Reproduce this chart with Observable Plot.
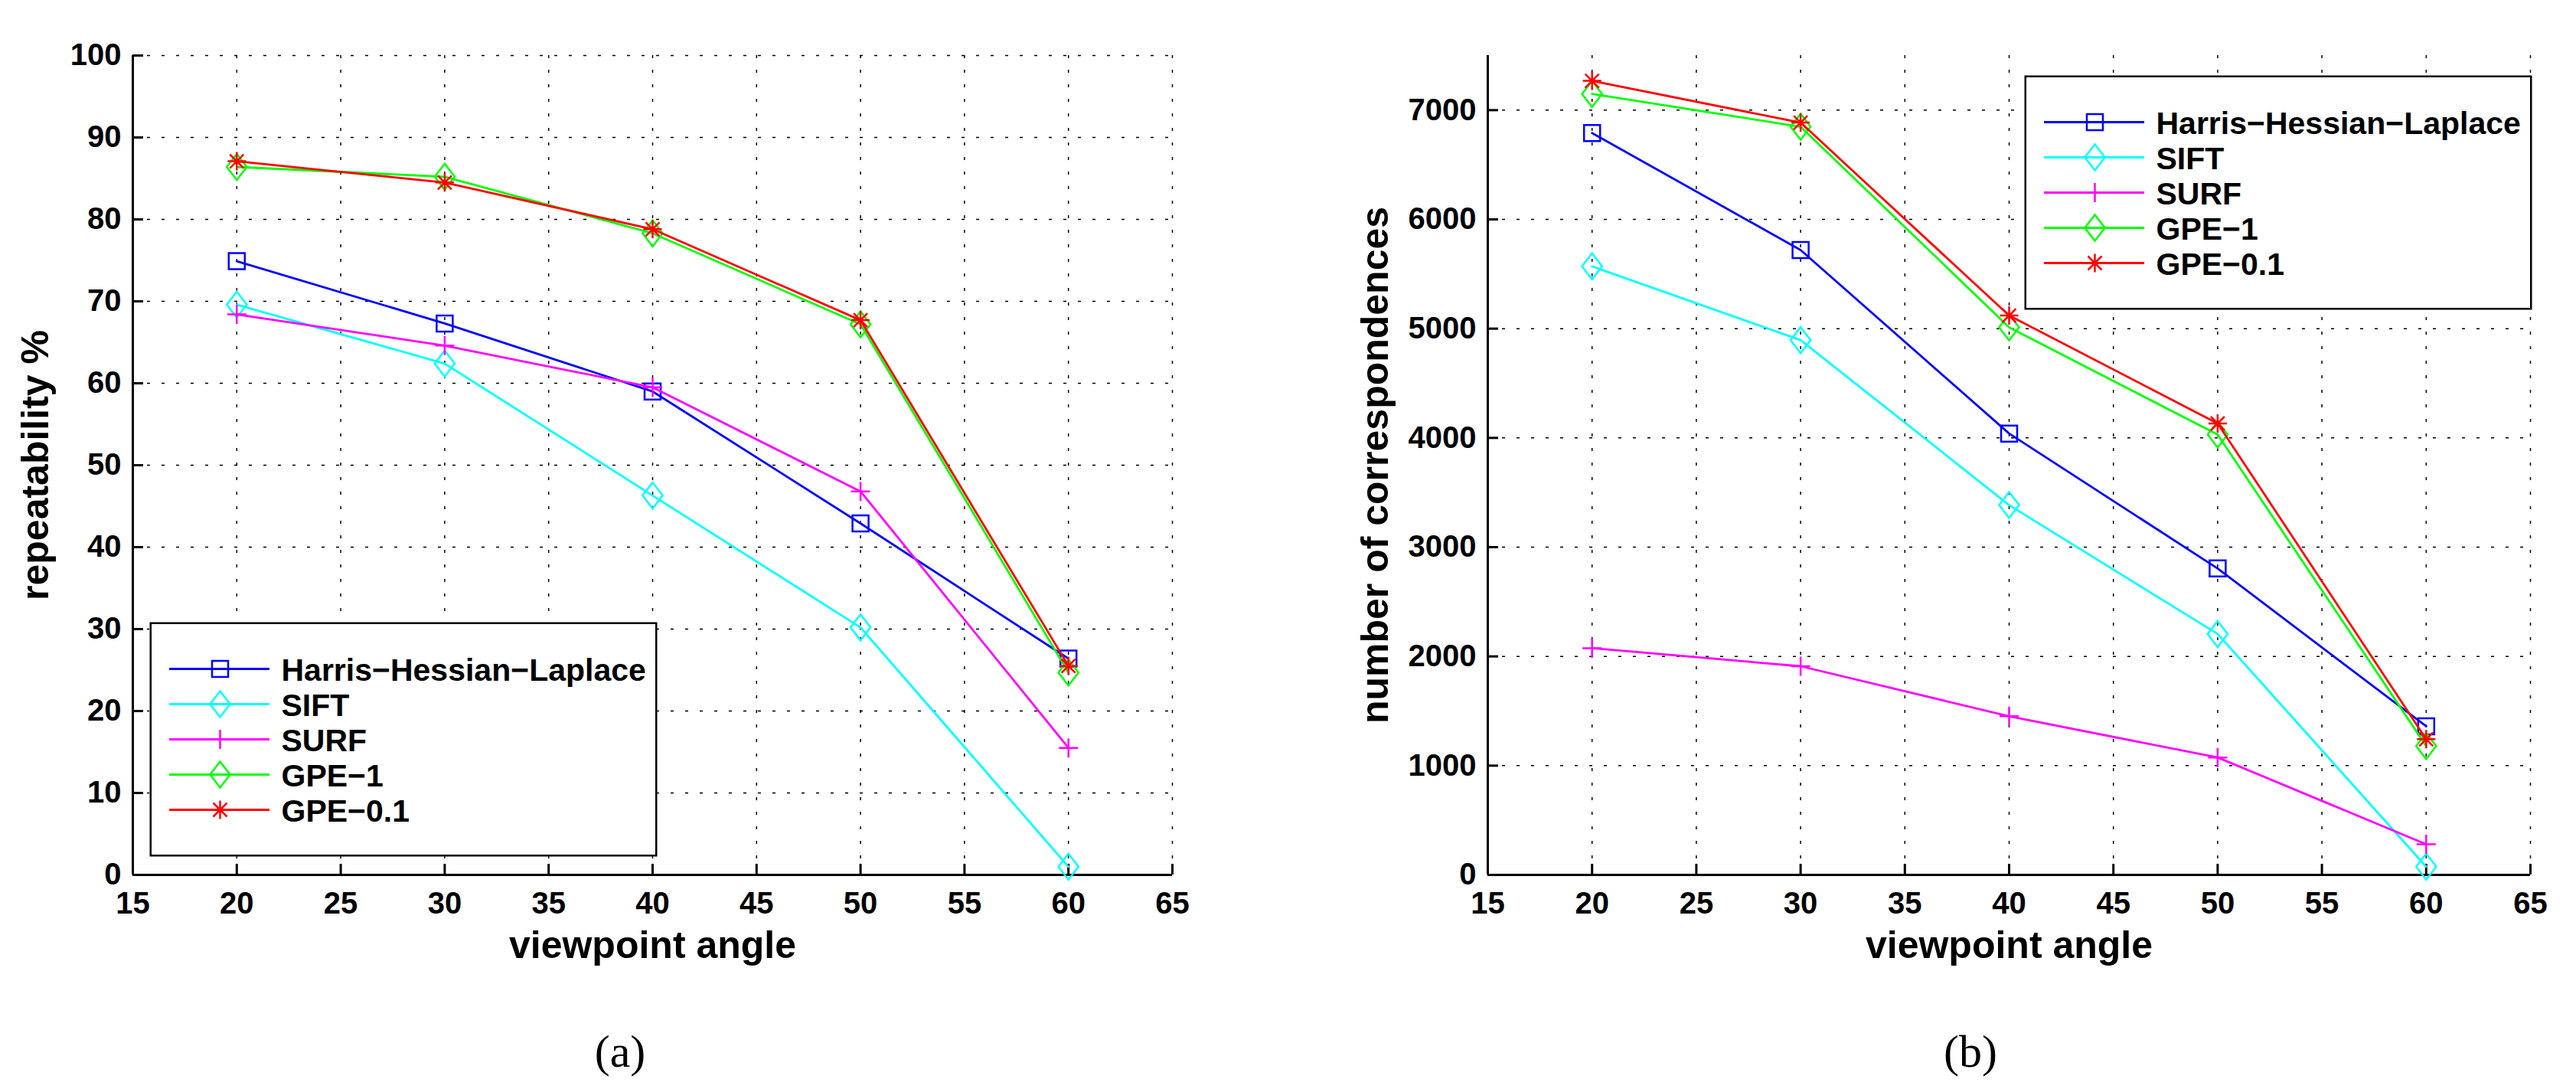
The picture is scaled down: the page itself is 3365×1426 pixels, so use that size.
<!DOCTYPE html>
<html>
<head>
<meta charset="utf-8">
<script src="https://cdn.jsdelivr.net/npm/d3@7"></script>
<script src="https://cdn.jsdelivr.net/npm/@observablehq/plot@0.6"></script>
<style>
html, body { margin: 0; padding: 0; background: #fff; }
#fig { position: relative; width: 3365px; height: 1426px; background: #fff; overflow: hidden; }
.cap { position: absolute; width: 200px; text-align: center; font-family: "Liberation Serif", "Times New Roman", serif; font-size: 60px; line-height: 60px; color: #000; }
</style>
</head>
<body>
<div id="fig"></div>
<script>
// ---------- data ----------
const angles = [20, 30, 40, 50, 60];
const seriesNames = ["Harris-Hessian-Laplace", "SIFT", "SURF", "GPE-1", "GPE-0.1"];
const legendLabels = ["Harris\u2212Hessian\u2212Laplace", "SIFT", "SURF", "GPE\u22121", "GPE\u22120.1"];
const seriesColors = ["#0000ff", "#00ffff", "#ff00ff", "#00ff00", "#ff0000"];

// (a) repeatability %
const repHHL   = [74.9, 67.3, 59.0, 42.9, 26.4];
const repSIFT  = [69.6, 62.4, 46.3, 30.2, 1.0];
const repSURF  = [68.4, 64.6, 59.5, 46.8, 15.5];
const repGPE1  = [86.4, 85.2, 78.3, 67.2, 24.7];
const repGPE01 = [87.1, 84.5, 78.8, 67.7, 25.5];

// (b) number of correspondences
const corHHL   = [6790, 5720, 4040, 2805, 1360];
const corSIFT  = [5570, 4895, 3385, 2205, 75];
const corSURF  = [2075, 1910, 1452, 1075, 280];
const corGPE1  = [7148, 6848, 5012, 4030, 1180];
const corGPE01 = [7268, 6886, 5120, 4132, 1242];

const xTicks = [15, 20, 25, 30, 35, 40, 45, 50, 55, 60, 65];
const repTicks = [0, 10, 20, 30, 40, 50, 60, 70, 80, 90, 100];
const corTicks = [0, 1000, 2000, 3000, 4000, 5000, 6000, 7000];
const xDomain = [15, 65];
const repDomain = [0, 100];
const corDomain = [0, 7500];
const xLabel = "viewpoint angle";
const repLabel = "repeatability %";
const corLabel = "number of correspondences";
const captions = ["(a)", "(b)"];

// ---------- marker symbols (MATLAB-like) ----------
const symSquare = { draw(ctx, size) { const r = Math.sqrt(size / Math.PI);
  ctx.moveTo(-r, -r); ctx.lineTo(r, -r); ctx.lineTo(r, r); ctx.lineTo(-r, r); ctx.closePath(); } };
const symDiamond = { draw(ctx, size) { const r = Math.sqrt(size / Math.PI), w = r * 0.77;
  ctx.moveTo(0, -r); ctx.lineTo(w, 0); ctx.lineTo(0, r); ctx.lineTo(-w, 0); ctx.closePath(); } };
const symPlus = { draw(ctx, size) { const r = Math.sqrt(size / Math.PI);
  ctx.moveTo(-r, 0); ctx.lineTo(r, 0); ctx.moveTo(0, -r); ctx.lineTo(0, r); } };
const symAsterisk = { draw(ctx, size) { const r = Math.sqrt(size / Math.PI), d = r * 0.75;
  ctx.moveTo(-r, 0); ctx.lineTo(r, 0); ctx.moveTo(0, -r); ctx.lineTo(0, r);
  ctx.moveTo(-d, -d); ctx.lineTo(d, d); ctx.moveTo(-d, d); ctx.lineTo(d, -d); } };
const seriesSymbols = [symSquare, symDiamond, symPlus, symDiamond, symAsterisk];
const seriesR = [10.5, 17, 12.5, 17, 12];

const FONT = "'Liberation Sans', Arial, Helvetica, sans-serif";
const colorScale = { domain: seriesNames, range: seriesColors };

function panel({ values, yTicks, yDomain, yLabel, width, height, mL, mR, mT, mB, yLabelDx }) {
  const innerW = width - mL - mR, innerH = height - mT - mB;
  const gridStyle = { stroke: "black", strokeOpacity: 1, strokeWidth: 1.5, strokeDasharray: "4,15" };
  const marks = [
    Plot.gridX(xTicks.filter(t => t !== xDomain[0]), gridStyle),
    Plot.gridY(yTicks.filter(t => t !== yDomain[0]), gridStyle),
    Plot.ruleX([xDomain[0]], { stroke: "black", strokeWidth: 3 }),
    Plot.ruleY([yDomain[0]], { stroke: "black", strokeWidth: 3 }),
    Plot.tickX(xTicks, { x: d => d, stroke: "black", strokeWidth: 3, insetTop: innerH - 14 }),
    Plot.tickY(yTicks, { y: d => d, stroke: "black", strokeWidth: 3, insetRight: innerW - 14 }),
    Plot.axisX(xTicks, { tickSize: 0, tickPadding: 22, fontSize: 40, label: null, tickFormat: d => String(d) }),
    Plot.axisY(yTicks, { tickSize: 0, tickPadding: 15, fontSize: 40, label: null, tickFormat: d => String(d) }),
    Plot.text([xLabel], { text: d => d, frameAnchor: "bottom", dy: 92, fontSize: 50,
      textAnchor: "middle", lineAnchor: "middle" }),
    Plot.text([yLabel], { text: d => d, frameAnchor: "left", rotate: -90, dx: yLabelDx, fontSize: 50,
      textAnchor: "middle", lineAnchor: "middle" })
  ];
  seriesNames.forEach((name, i) => {
    const rows = angles.map((a, j) => ({ angle: a, value: values[i][j], series: name }));
    marks.push(Plot.line(rows, { x: "angle", y: "value", stroke: "series", strokeWidth: 2.8 }));
    marks.push(Plot.dot(rows, { x: "angle", y: "value", stroke: "series", fill: "none",
      symbol: seriesSymbols[i], r: seriesR[i], strokeWidth: 2.5 }));
  });
  return Plot.plot({
    width, height, marginLeft: mL, marginRight: mR, marginTop: mT, marginBottom: mB,
    x: { domain: xDomain },
    y: { domain: yDomain },
    color: colorScale,
    style: { fontFamily: FONT, fontWeight: "bold", background: "transparent", color: "black", overflow: "visible" },
    marks
  });
}

function legend() {
  const marks = [
    Plot.frame({ stroke: "black", strokeWidth: 2.5, inset: 1.25 }),
    Plot.ruleY(seriesNames, { y: d => d, stroke: d => d, strokeWidth: 2.8, insetLeft: 26, insetRight: 506 })
  ];
  seriesNames.forEach((name, i) => {
    marks.push(Plot.dot([name], { y: d => d, frameAnchor: "left", dx: 92, stroke: d => d, fill: "none",
      symbol: seriesSymbols[i], r: seriesR[i], strokeWidth: 2.5 }));
  });
  marks.push(Plot.text(seriesNames, { y: d => d, text: (d, i) => legendLabels[i], frameAnchor: "left",
    dx: 172, dy: 2, textAnchor: "start", lineAnchor: "middle", fontSize: 41 }));
  return Plot.plot({
    width: 663, height: 306, margin: 0,
    y: { type: "point", domain: seriesNames, range: [36, 270], axis: null },
    color: colorScale,
    style: { fontFamily: FONT, fontWeight: "bold", background: "white", color: "black", overflow: "visible" },
    marks
  });
}

const fig = document.getElementById("fig");
function place(el, left, top) {
  el.style.position = "absolute"; el.style.left = left + "px"; el.style.top = top + "px";
  fig.appendChild(el);
}

const pa = panel({ values: [repHHL, repSIFT, repSURF, repGPE1, repGPE01], yTicks: repTicks, yDomain: repDomain,
  yLabel: repLabel, width: 1700, height: 1300, mL: 173, mR: 169, mT: 72, mB: 158, yLabelDx: -127 });
place(pa, 0, 0);
const pb = panel({ values: [corHHL, corSIFT, corSURF, corGPE1, corGPE01], yTicks: corTicks, yDomain: corDomain,
  yLabel: corLabel, width: 1665, height: 1300, mL: 243, mR: 60, mT: 72, mB: 158, yLabelDx: -147 });
place(pb, 1700, 0);

place(legend(), 195, 812);
place(legend(), 2644, 98);

[[captions[0], 810], [captions[1], 2574]].forEach(([t, cx]) => {
  const d = document.createElement("div");
  d.className = "cap"; d.textContent = t;
  d.style.left = (cx - 100) + "px"; d.style.top = "1343px";
  fig.appendChild(d);
});
</script>
</body>
</html>
